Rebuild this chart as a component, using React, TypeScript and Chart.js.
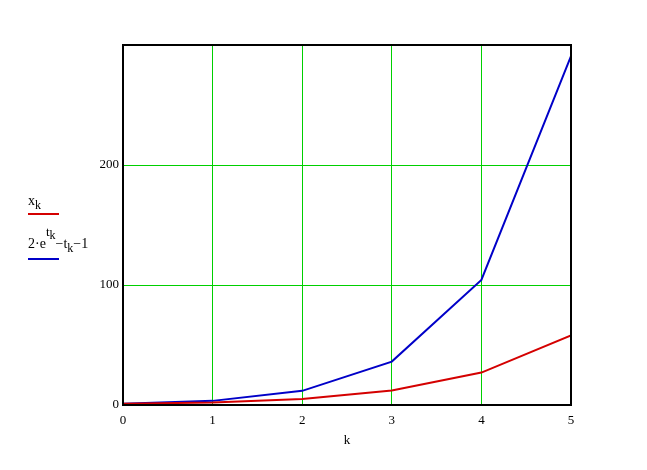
import React, { useEffect, useRef } from "react";
import { Chart, registerables } from "chart.js";

Chart.register(...registerables);

const kValues = [0, 1, 2, 3, 4, 5];
const xkValues = [1, 2, 5, 12, 27, 58];
const fkValues = [1, 3.44, 11.78, 36.17, 104.2, 290.8];
const yTicks = [0, 100, 200];

const FONT = "'Liberation Serif', 'Times New Roman', serif";
const GRID = "#00d000";

const gridPlugin = {
  id: "crispGrid",
  beforeDatasetsDraw(chart: any) {
    const { ctx, chartArea, scales } = chart;
    ctx.save();
    ctx.fillStyle = GRID;
    scales.x.ticks.forEach((t: any) => {
      const px = Math.floor(scales.x.getPixelForValue(t.value));
      ctx.fillRect(px, chartArea.top, 1, chartArea.bottom - chartArea.top);
    });
    scales.y.ticks.forEach((t: any) => {
      const py = Math.floor(scales.y.getPixelForValue(t.value));
      ctx.fillRect(chartArea.left, py, chartArea.right - chartArea.left, 1);
    });
    ctx.restore();
  },
  afterDatasetsDraw(chart: any) {
    const { ctx, chartArea } = chart;
    ctx.save();
    ctx.strokeStyle = "#000";
    ctx.lineWidth = 2;
    ctx.strokeRect(chartArea.left, chartArea.top, chartArea.right - chartArea.left, chartArea.bottom - chartArea.top);
    ctx.restore();
  },
};

export default function App() {
  const ref = useRef<HTMLCanvasElement>(null);
  useEffect(() => {
    if (!ref.current) return;
    const chart = new Chart(ref.current, {
      type: "line",
      data: {
        labels: kValues,
        datasets: [
          {
            label: "x_k",
            data: kValues.map((k, i) => ({ x: k, y: xkValues[i] })),
            borderColor: "#d40000",
            borderWidth: 2,
            pointRadius: 0,
            tension: 0,
            fill: false,
          },
          {
            label: "2·e^t_k − t_k − 1",
            data: kValues.map((k, i) => ({ x: k, y: fkValues[i] })),
            borderColor: "#0000c8",
            borderWidth: 2,
            pointRadius: 0,
            tension: 0,
            fill: false,
          },
        ],
      },
      options: {
        animation: false,
        responsive: false,
        maintainAspectRatio: false,
        layout: { padding: { left: 83, top: 45, right: 76, bottom: 22 } },
        plugins: { legend: { display: false }, tooltip: { enabled: false } },
        scales: {
          x: {
            type: "linear",
            min: 0,
            max: 5,
            afterFit: (s: any) => { s.height = 43; },
            ticks: {
              stepSize: 1,
              color: "#000",
              font: { family: FONT, size: 13 },
              padding: 8,
              maxRotation: 0,
            },
            grid: { display: false, drawTicks: false },
            border: { display: false },
            title: {
              display: true,
              text: "k",
              color: "#000",
              font: { family: FONT, size: 13 },
              padding: { top: 0, bottom: 0 },
            },
          },
          y: {
            type: "linear",
            min: 0,
            max: 300,
            afterFit: (s: any) => { s.width = 40; },
            ticks: {
              stepSize: 100,
              color: "#000",
              font: { family: FONT, size: 13 },
              padding: 4,
              callback: (v: any) => (yTicks.includes(v) ? String(v) : ""),
            },
            grid: { display: false, drawTicks: false },
            border: { display: false },
          },
        },
      },
      plugins: [gridPlugin],
    });
    return () => chart.destroy();
  }, []);

  const txt: React.CSSProperties = { position: "absolute", fontFamily: FONT, fontSize: 14, color: "#000", whiteSpace: "nowrap", lineHeight: "14px" };
  return (
    <div style={{ position: "fixed", left: 0, top: 0, width: 647, height: 470, background: "#fff" }}>
      <canvas ref={ref} width={647} height={470} style={{ position: "absolute", left: 0, top: 0 }} />
      <div style={{ ...txt, left: 28, top: 194 }}>
        x<span style={{ fontSize: 12, position: "relative", top: 4 }}>k</span>
      </div>
      <div style={{ position: "absolute", left: 28, top: 213, width: 31, height: 2, background: "#d40000" }} />
      <div style={{ ...txt, left: 28, top: 237 }}>
        2·e
        <span style={{ fontSize: 13, position: "relative", top: -12 }}>
          t<span style={{ fontSize: 12, position: "relative", top: 3 }}>k</span>
        </span>
        −t<span style={{ fontSize: 12, position: "relative", top: 4 }}>k</span>−1
      </div>
      <div style={{ position: "absolute", left: 28, top: 258, width: 31, height: 2, background: "#0000c8" }} />
    </div>
  );
}
